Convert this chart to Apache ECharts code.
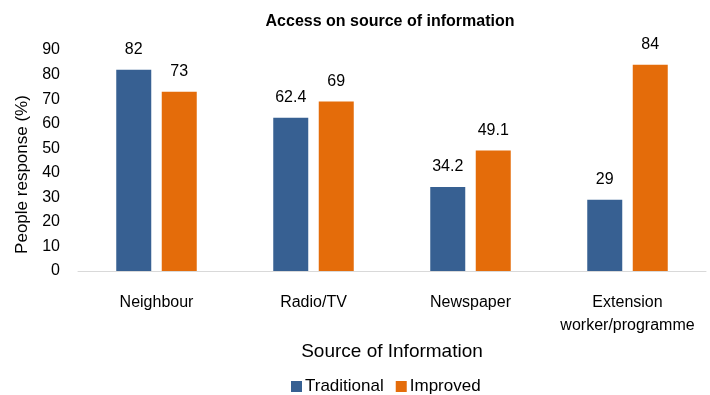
<!DOCTYPE html>
<html>
<head>
<meta charset="utf-8">
<script src="https://cdn.jsdelivr.net/npm/echarts@6/dist/echarts.min.js"></script>
<style>
  html, body { margin: 0; padding: 0; background: #fff; }
  #chart { width: 710px; height: 395px; }
</style>
</head>
<body>
<div id="chart"></div>
<script>
// data
var categories = ['Neighbour', 'Radio/TV', 'Newspaper', 'Extension\nworker/programme'];
var traditional = [82, 62.4, 34.2, 29];
var improved = [73, 69, 49.1, 84];
var yTicks = [0, 10, 20, 30, 40, 50, 60, 70, 80, 90];

var font = "'Liberation Sans', sans-serif";

var chart = echarts.init(document.getElementById('chart'));
var option = {
    animation: false,
    textStyle: { fontFamily: font },
    title: {
        text: 'Access on source of information',
        left: 385,
        textAlign: 'center',
        top: 9,
        textStyle: { fontSize: 16, fontWeight: 'bold', color: '#000', fontFamily: font }
    },
    legend: {
        top: 373,
        left: 286,
        itemWidth: 11,
        itemHeight: 11,
        itemGap: 12,
        icon: 'rect',
        textStyle: { fontSize: 17, color: '#000', fontFamily: font, padding: [0, 0, 0, -2] },
        data: ['Traditional', 'Improved']
    },
    grid: { left: 78, right: 4, top: 50, bottom: 124, containLabel: false },
    xAxis: {
        type: 'category',
        data: categories,
        name: 'Source of Information',
        nameLocation: 'middle',
        nameGap: 67,
        nameTextStyle: { fontSize: 19, color: '#000', fontFamily: font },
        axisLine: { lineStyle: { color: '#d9d9d9', width: 1 } },
        axisTick: { show: false },
        axisLabel: { interval: 0, fontSize: 16, color: '#000', margin: 20, lineHeight: 23, fontFamily: font }
    },
    yAxis: {
        type: 'value',
        min: yTicks[0],
        max: yTicks[yTicks.length - 1],
        interval: 10,
        name: 'People response (%)',
        nameLocation: 'middle',
        nameGap: 42,
        nameTextStyle: { fontSize: 17, color: '#000', fontFamily: font, padding: [0, 28, 0, 0] },
        splitLine: { show: false },
        axisLine: { show: false },
        axisTick: { show: false },
        axisLabel: { fontSize: 16, color: '#000', margin: 18, fontFamily: font }
    },
    series: [
        {
            name: 'Traditional',
            type: 'bar',
            data: traditional,
            barWidth: 35,
            barGap: '30%',
            itemStyle: { color: '#376092' },
            label: { show: true, position: 'top', distance: 12, fontSize: 16, color: '#000', fontFamily: font }
        },
        {
            name: 'Improved',
            type: 'bar',
            data: improved,
            barWidth: 35,
            itemStyle: { color: '#e46c0a' },
            label: { show: true, position: 'top', distance: 12, fontSize: 16, color: '#000', fontFamily: font }
        }
    ]
};
chart.setOption(option);
</script>
</body>
</html>
